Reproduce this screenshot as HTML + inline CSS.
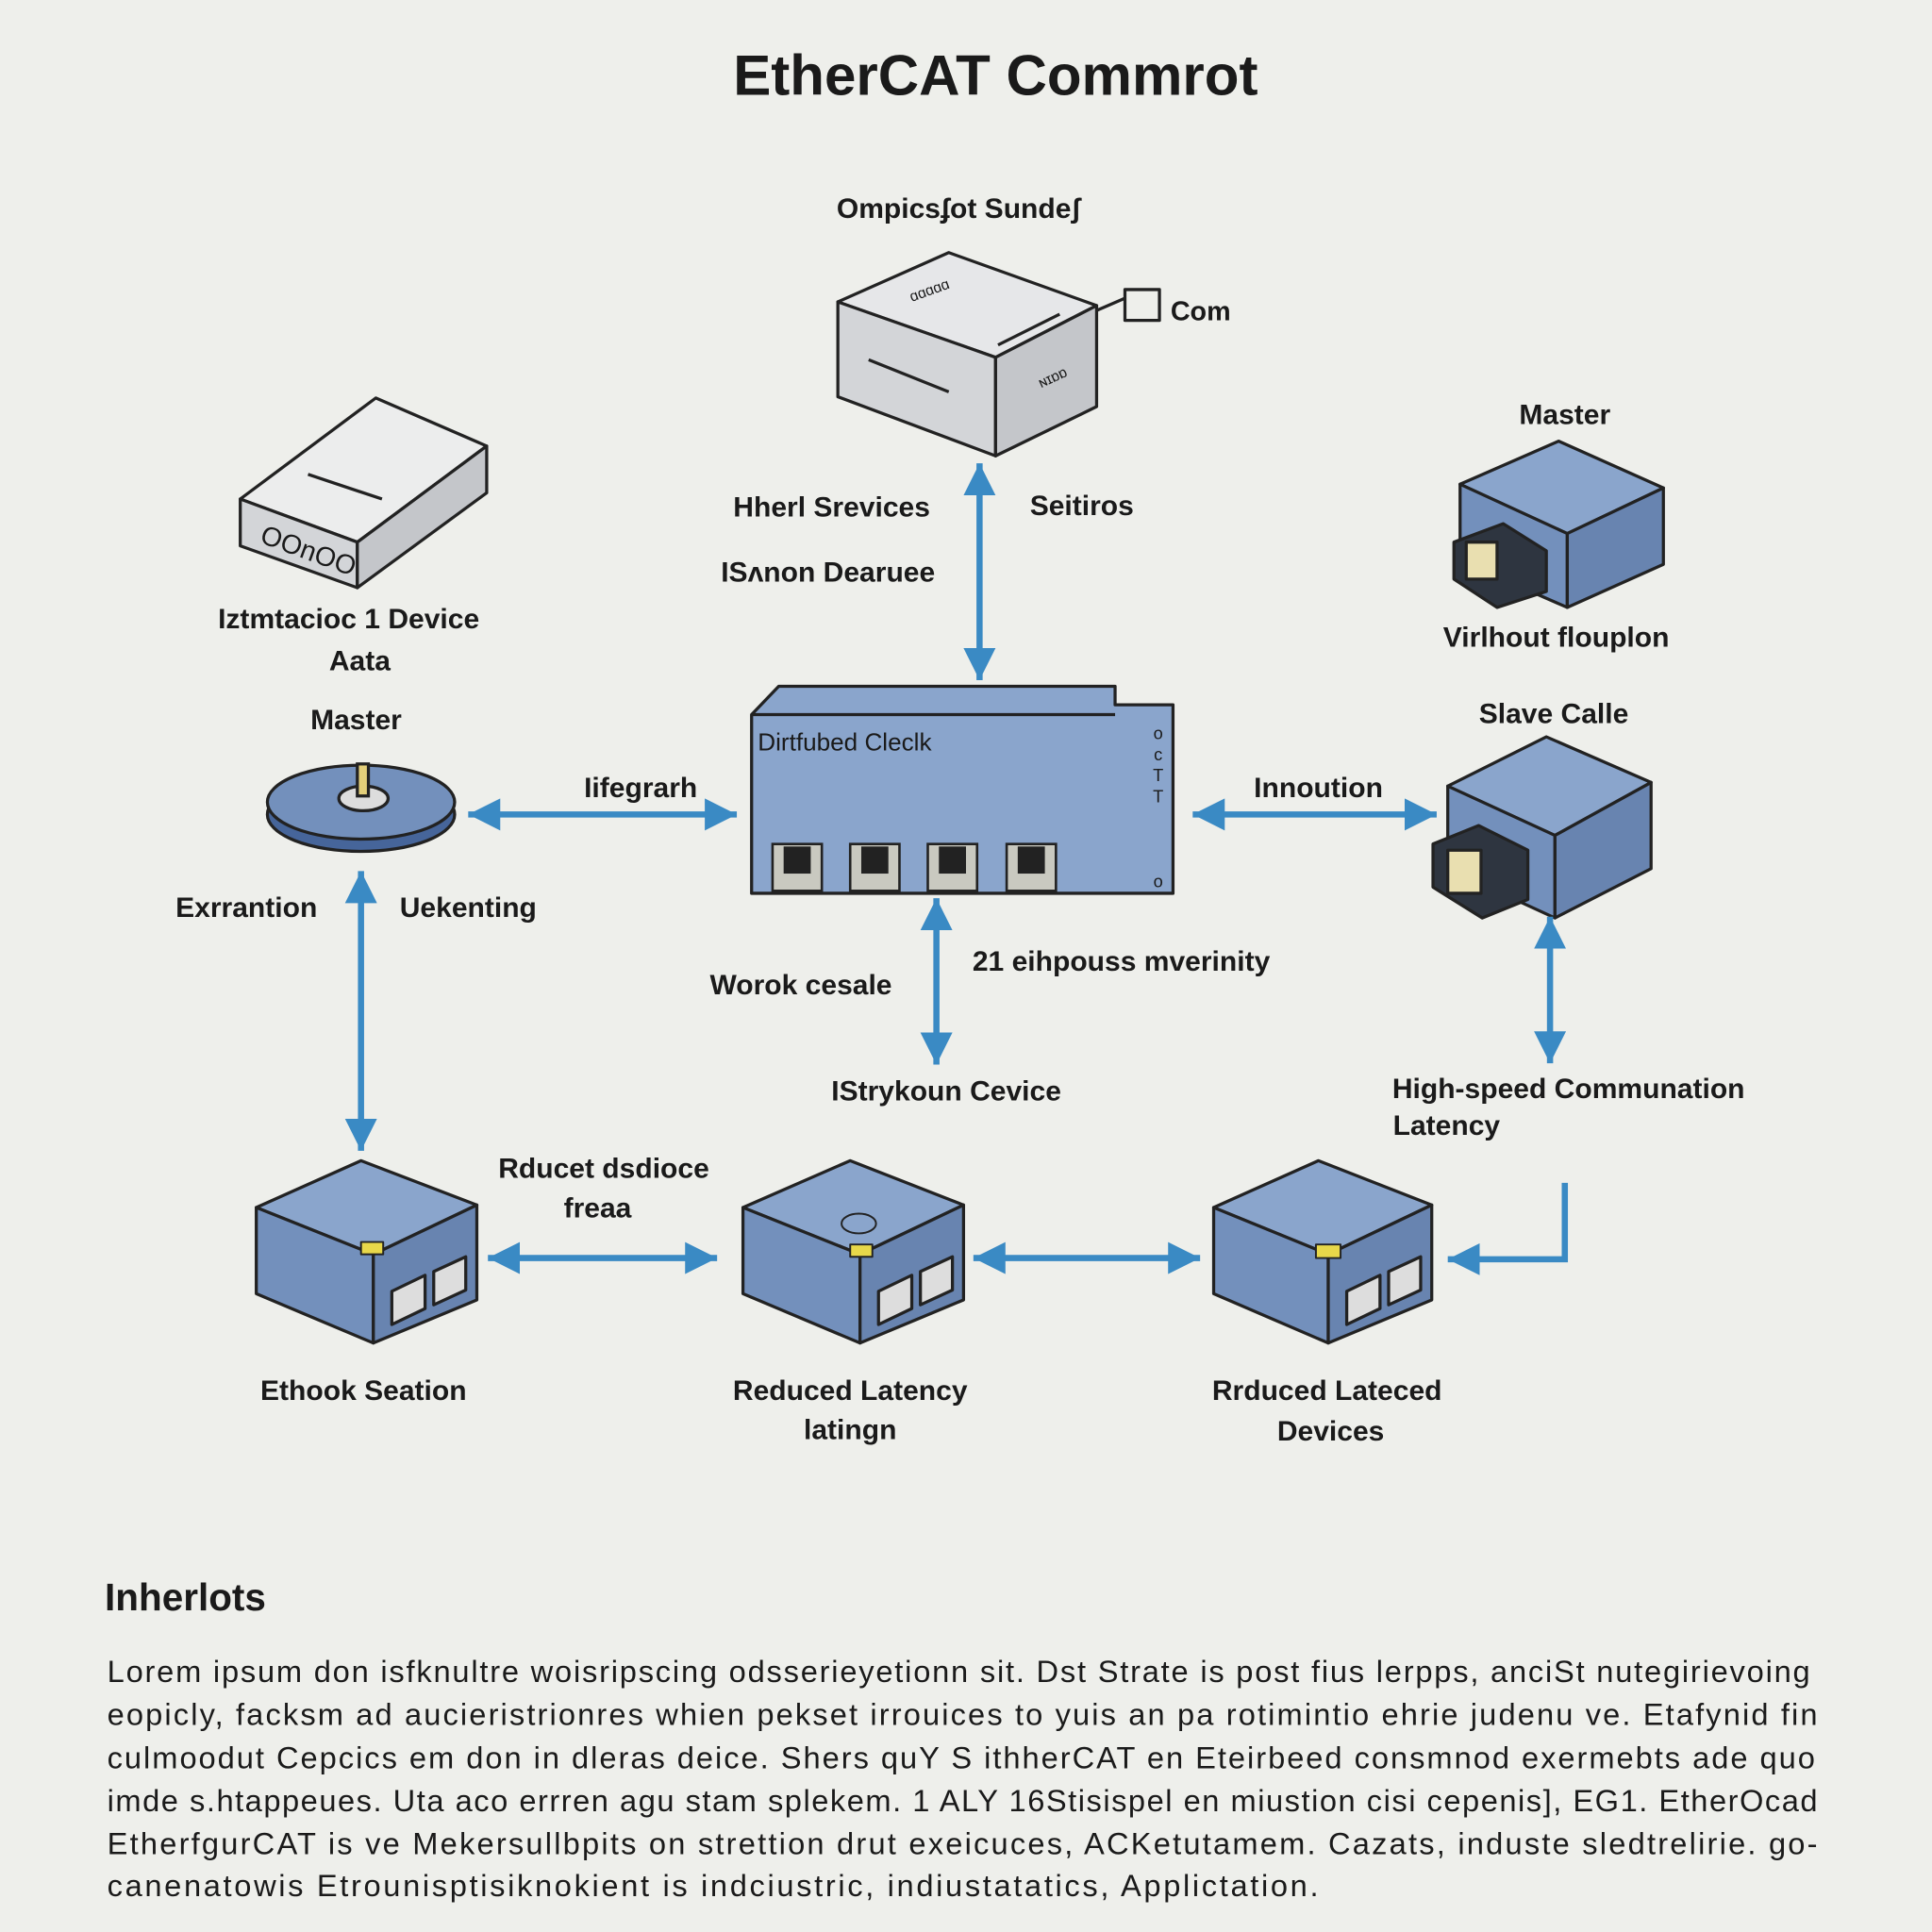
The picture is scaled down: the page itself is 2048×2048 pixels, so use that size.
<!DOCTYPE html>
<html><head><meta charset="utf-8"><style>
html,body{margin:0;padding:0;background:#eeefeb;}
svg{display:block}
text{font-family:"Liberation Sans",sans-serif;fill:#1a1a1a;}
.l{font-size:23px;font-weight:bold;text-anchor:middle;}
.p{font-size:25px;font-weight:normal;}
</style></head><body>
<svg width="2048" height="2048" viewBox="0 0 1568 1568" xmlns="http://www.w3.org/2000/svg">
<defs>
<marker id="a" markerWidth="26" markerHeight="26" refX="8" refY="4" orient="auto-start-reverse" markerUnits="userSpaceOnUse" viewBox="0 0 8 8"><path d="M0,0 L8,4 L0,8 z" fill="#3a8ac4"/></marker>
</defs>
<rect width="1568" height="1568" fill="#eeefeb"/>
<text x="808" y="77" text-anchor="middle" style="font-size:46px;font-weight:bold">EtherCAT Commrot</text>

<g stroke="#222" stroke-width="2.5" stroke-linejoin="round">
<polygon points="680,245 770,205 890,248 808,290" fill="#e6e7e9"/>
<polygon points="680,245 808,290 808,370 680,322" fill="#d3d5d8"/>
<polygon points="808,290 890,248 890,330 808,370" fill="#c4c6ca"/>
<line x1="705" y1="292" x2="770" y2="318"/><line x1="810" y1="280" x2="860" y2="255"/>
<line x1="890" y1="252" x2="913" y2="242"/>
<rect x="913" y="235" width="28" height="25" fill="none"/>
</g>
<text x="740" y="245" style="font-size:12px" transform="rotate(-20 740 245)">ɑɑɑɑɑ</text>
<text x="845" y="315" style="font-size:12px" transform="rotate(-25 845 315)">ɴɪɒɒ</text>
<text x="778" y="177" class="l">Ompicsʄot Sundeʃ</text>
<text x="950" y="260" style="font-size:22px;font-weight:bold">Com</text>

<g stroke="#222" stroke-width="2.5" stroke-linejoin="round">
<polygon points="195,405 305,323 395,362 290,440" fill="#eceded"/>
<polygon points="195,405 290,440 290,477 195,443" fill="#d3d5d8"/>
<polygon points="290,440 395,362 395,400 290,477" fill="#c4c6ca"/>
<line x1="250" y1="385" x2="310" y2="405"/>
</g>
<text x="210" y="440" style="font-size:22px" transform="rotate(20 210 440)">OOnOO</text>
<text x="283" y="510" class="l">Iztmtacioc 1 Device</text>
<text x="292" y="544" class="l">Aata</text>

<g stroke="#222" stroke-width="2.5" stroke-linejoin="round">
<polygon points="1185,393 1265,358 1350,396 1272,433" fill="#8aa5cc"/>
<polygon points="1185,393 1272,433 1272,493 1185,455" fill="#7390bc"/>
<polygon points="1272,433 1350,396 1350,458 1272,493" fill="#6884b0"/>
<polygon points="1180,440 1220,425 1255,447 1255,480 1215,493 1180,470" fill="#2e3540"/>
<rect x="1190" y="440" width="25" height="30" fill="#e9dfb0"/>
</g>
<text x="1270" y="344" class="l">Master</text>
<text x="1263" y="525" class="l">Virlhout flouplon</text>

<line x1="795" y1="376" x2="795" y2="552" stroke="#3a8ac4" stroke-width="5" marker-start="url(#a)" marker-end="url(#a)"/>
<text x="675" y="419" class="l">Hherl Srevices</text>
<text x="878" y="418" class="l">Seitiros</text>
<text x="672" y="472" class="l">ISʌnon Dearuee</text>

<g stroke="#222" stroke-width="2.5" stroke-linejoin="round">
<polygon points="610,580 632,557 905,557 905,572 952,572 952,725 610,725" fill="#8aa5cc"/>
<line x1="610" y1="580" x2="905" y2="580"/>
</g>
<text x="615" y="609" style="font-size:20px">Dirtfubed Cleclk</text>
<text x="940" y="600" style="font-size:14px" text-anchor="middle">o</text>
<text x="940" y="617" style="font-size:14px" text-anchor="middle">c</text>
<text x="940" y="634" style="font-size:14px" text-anchor="middle">T</text>
<text x="940" y="651" style="font-size:14px" text-anchor="middle">T</text>
<text x="940" y="720" style="font-size:14px" text-anchor="middle">o</text>
<g stroke="#222" stroke-width="2">
<rect x="627" y="685" width="40" height="38" fill="#c9c9c0"/><rect x="637" y="688" width="20" height="20" fill="#222"/>
<rect x="690" y="685" width="40" height="38" fill="#c9c9c0"/><rect x="700" y="688" width="20" height="20" fill="#222"/>
<rect x="753" y="685" width="40" height="38" fill="#c9c9c0"/><rect x="763" y="688" width="20" height="20" fill="#222"/>
<rect x="817" y="685" width="40" height="38" fill="#c9c9c0"/><rect x="827" y="688" width="20" height="20" fill="#222"/>
</g>

<g stroke="#222" stroke-width="2.5">
<ellipse cx="293" cy="661" rx="76" ry="30" fill="#46659a"/>
<ellipse cx="293" cy="651" rx="76" ry="30" fill="#7390bc"/>
<ellipse cx="295" cy="648" rx="20" ry="10" fill="#ddd"/>
<rect x="290" y="620" width="9" height="26" fill="#e3cf7a"/>
</g>
<text x="289" y="592" class="l">Master</text>

<line x1="380" y1="661" x2="598" y2="661" stroke="#3a8ac4" stroke-width="5" marker-start="url(#a)" marker-end="url(#a)"/>
<text x="520" y="647" class="l">Iifegrarh</text>
<line x1="968" y1="661" x2="1166" y2="661" stroke="#3a8ac4" stroke-width="5" marker-start="url(#a)" marker-end="url(#a)"/>
<text x="1070" y="647" class="l">Innoution</text>

<g stroke="#222" stroke-width="2.5" stroke-linejoin="round">
<polygon points="1175,638 1255,598 1340,635 1262,678" fill="#8aa5cc"/>
<polygon points="1175,638 1262,678 1262,745 1175,705" fill="#7390bc"/>
<polygon points="1262,678 1340,635 1340,705 1262,745" fill="#6884b0"/>
<polygon points="1163,685 1200,670 1240,690 1240,730 1203,745 1163,720" fill="#2e3540"/>
<rect x="1175" y="690" width="27" height="35" fill="#e9dfb0"/>
</g>
<text x="1261" y="587" class="l">Slave Calle</text>

<line x1="293" y1="707" x2="293" y2="934" stroke="#3a8ac4" stroke-width="5" marker-start="url(#a)" marker-end="url(#a)"/>
<text x="200" y="744" class="l">Exrrantion</text>
<text x="380" y="744" class="l">Uekenting</text>
<line x1="760" y1="729" x2="760" y2="864" stroke="#3a8ac4" stroke-width="5" marker-start="url(#a)" marker-end="url(#a)"/>
<text x="650" y="807" class="l">Worok cesale</text>
<text x="910" y="788" class="l">21 eihpouss mverinity</text>
<text x="768" y="893" class="l">IStrykoun Cevice</text>
<line x1="1258" y1="744" x2="1258" y2="863" stroke="#3a8ac4" stroke-width="5" marker-start="url(#a)" marker-end="url(#a)"/>
<text x="1273" y="891" class="l">High-speed Communation</text>
<text x="1174" y="921" class="l">Latency</text>

<g stroke="#222" stroke-width="2.5" stroke-linejoin="round">
<polygon points="208,980 293,942 387,978 303,1018" fill="#8aa5cc"/>
<polygon points="208,980 303,1018 303,1090 208,1050" fill="#7390bc"/>
<polygon points="303,1018 387,978 387,1055 303,1090" fill="#6884b0"/>
<rect x="293" y="1008" width="18" height="10" fill="#e8d84a" stroke-width="1.5"/>
<polygon points="318,1048 345,1035 345,1062 318,1075" fill="#ddd"/>
<polygon points="352,1032 378,1020 378,1047 352,1059" fill="#ddd"/>
<polygon points="603,980 690,942 782,978 698,1018" fill="#8aa5cc"/>
<polygon points="603,980 698,1018 698,1090 603,1050" fill="#7390bc"/>
<polygon points="698,1018 782,978 782,1055 698,1090" fill="#6884b0"/>
<ellipse cx="697" cy="993" rx="14" ry="8" fill="none" stroke-width="1.5"/>
<rect x="690" y="1010" width="18" height="10" fill="#e8d84a" stroke-width="1.5"/>
<polygon points="713,1048 740,1035 740,1062 713,1075" fill="#ddd"/>
<polygon points="747,1032 773,1020 773,1047 747,1059" fill="#ddd"/>
<polygon points="985,980 1070,942 1162,978 1078,1018" fill="#8aa5cc"/>
<polygon points="985,980 1078,1018 1078,1090 985,1050" fill="#7390bc"/>
<polygon points="1078,1018 1162,978 1162,1055 1078,1090" fill="#6884b0"/>
<rect x="1068" y="1010" width="20" height="11" fill="#e8d84a" stroke-width="1.5"/>
<polygon points="1093,1048 1120,1035 1120,1062 1093,1075" fill="#ddd"/>
<polygon points="1127,1032 1153,1020 1153,1047 1127,1059" fill="#ddd"/>
</g>
<line x1="396" y1="1021" x2="582" y2="1021" stroke="#3a8ac4" stroke-width="5" marker-start="url(#a)" marker-end="url(#a)"/>
<line x1="790" y1="1021" x2="974" y2="1021" stroke="#3a8ac4" stroke-width="5" marker-start="url(#a)" marker-end="url(#a)"/>
<polyline points="1270,960 1270,1022 1175,1022" fill="none" stroke="#3a8ac4" stroke-width="5" marker-end="url(#a)"/>
<text x="490" y="956" class="l">Rducet dsdioce</text>
<text x="485" y="988" class="l">freaa</text>
<text x="295" y="1136" class="l">Ethook Seation</text>
<text x="690" y="1136" class="l">Reduced Latency</text>
<text x="690" y="1168" class="l">latingn</text>
<text x="1077" y="1136" class="l">Rrduced Lateced</text>
<text x="1080" y="1169" class="l">Devices</text>

<text x="85" y="1307" style="font-size:31px;font-weight:bold">Inherlots</text>
<g class="p">
<text x="87" y="1365" class="p" textLength="1382">Lorem ipsum don isfknultre woisripscing odsserieyetionn sit. Dst Strate is post fius lerpps, anciSt nutegirievoing</text>
<text x="87" y="1400" class="p" textLength="1388">eopicly, facksm ad aucieristrionres whien pekset irrouices to yuis an pa rotimintio ehrie judenu ve. Etafynid fin</text>
<text x="87" y="1435" class="p" textLength="1386">culmoodut Cepcics em don in dleras deice. Shers quY S ithherCAT en Eteirbeed consmnod exermebts ade quo</text>
<text x="87" y="1470" class="p" textLength="1388">imde s.htappeues. Uta aco errren agu stam splekem. 1 ALY 16Stisispel en miustion cisi cepenis], EG1. EtherOcad</text>
<text x="87" y="1505" class="p" textLength="1388">EtherfgurCAT is ve Mekersullbpits on strettion drut exeicuces, ACKetutamem. Cazats, induste sledtrelirie. go-</text>
<text x="87" y="1539" class="p" textLength="983">canenatowis Etrounisptisiknokient is indciustric, indiustatatics, Applictation.</text>
</g>
</svg>
</body></html>
